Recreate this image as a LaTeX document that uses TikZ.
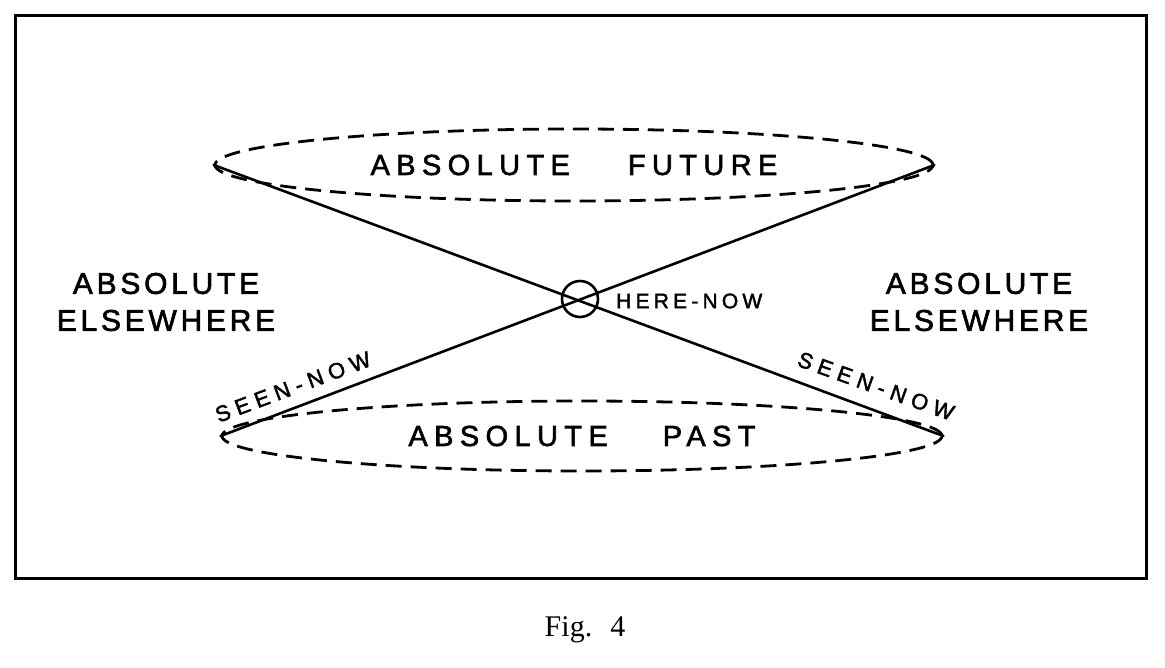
\documentclass[tikz,border=0pt]{standalone}
\usepackage{fontspec}
\newfontfamily\letA[LetterSpace=22,FakeBold=2]{Liberation Sans}
\newfontfamily\letB[LetterSpace=12.5,FakeBold=2]{Liberation Sans}
\newfontfamily\letC[LetterSpace=20,FakeBold=2]{Liberation Sans}
\newfontfamily\letD[LetterSpace=28,FakeBold=2]{Liberation Sans}
\newfontfamily\capfont{Liberation Serif}
\usetikzlibrary{shapes.geometric}
\begin{document}
\begin{tikzpicture}[x=1pt,y=-1pt,
  frame/.style={line width=3pt},
  cone/.style={line width=2.6pt, line cap=round},
  nappe/.style={ellipse, draw, line width=2.8pt, dash pattern=on 16pt off 9pt, inner sep=0pt},
  biglbl/.style={font=\letA\fontsize{29}{33}\selectfont},
  sidelbl/.style={font=\letB\fontsize{30}{37}\selectfont, align=center},
  smalllbl/.style={font=\letC\fontsize{21}{25}\selectfont, inner sep=0pt},
  seenlbl/.style={font=\letD\fontsize{22}{25}\selectfont, inner sep=0pt}]
\useasboundingbox (0,0) rectangle (1165,668);
\draw[frame] (15,16) rectangle (1146,578);
\node[nappe, biglbl, minimum width=718pt, minimum height=72pt] (future) at (574,165) {ABSOLUTE\hspace{58pt}FUTURE};
\node[nappe, biglbl, minimum width=720pt, minimum height=70pt] (past) at (582,436) {ABSOLUTE\hspace{55pt}PAST};
\node[circle, draw, line width=2.6pt, minimum size=36pt, inner sep=0pt] (hn) at (580,299) {};
\draw[cone] (future.west) -- (past.east);
\draw[cone] (future.east) -- (past.west);
\node[sidelbl] (elseL) at (166,302) {ABSOLUTE\\ELSEWHERE};
\node[sidelbl] (elseR) at (979,302) {ABSOLUTE\\ELSEWHERE};
\node[smalllbl, anchor=west] (herenow) at (616,301) {HERE-NOW};
\node[seenlbl, rotate=20.5] (seenL) at (293,387) {SEEN-NOW};
\node[seenlbl, rotate=-19.7] (seenR) at (876,386) {SEEN-NOW};
\node[font=\capfont\fontsize{30}{34}\selectfont] (cap) at (585,630) {Fig.\hspace{18pt}4};
\end{tikzpicture}
\end{document}
